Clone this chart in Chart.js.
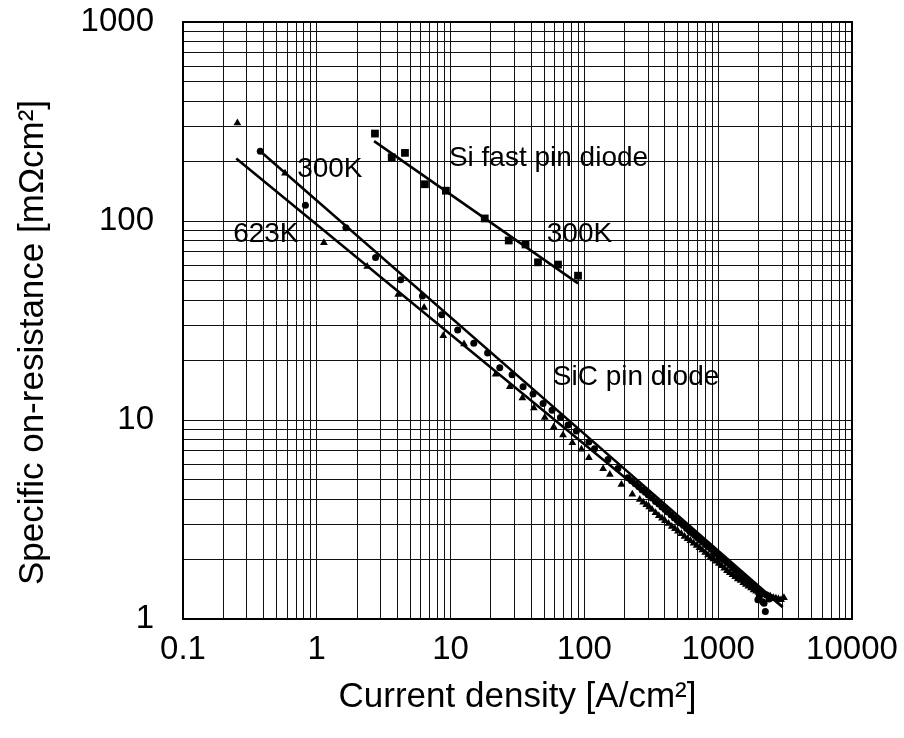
<!DOCTYPE html>
<html>
<head>
<meta charset="utf-8">
<script src="https://cdn.jsdelivr.net/npm/chart.js@4/dist/chart.umd.min.js"></script>
<style>
  body { margin: 0; background: #fff; }
  canvas { display: block; }
</style>
</head>
<body>
<canvas id="chart" width="904" height="738"></canvas>
<script>
// axis decades
const xDecades = [0.1, 1, 10, 100, 1000, 10000];
const yDecades = [1, 10, 100, 1000];

// Si fast pin diode, 300K
const siJ = [2.72, 3.63, 4.56, 6.43, 9.22, 18.0, 27.2, 36.3, 45.0, 63.5, 89.6];
const siR = [275, 209, 220, 153, 142, 103, 79.8, 76.2, 62.0, 60.4, 53.1];
const siFitJ = [2.68, 89.6];
const siFitR = [252, 48.6];

// SiC pin diode, 300K (circles)
const sic300J = [0.378, 0.822, 1.65, 2.75, 4.24, 6.16, 8.57, 11.3, 14.9, 18.9, 23.3, 28.8, 34.8, 41.3,
  49.1, 57.3, 66.2, 75.5, 87.1, 108, 119, 150, 178,
  211, 225, 240, 255, 270, 285, 300, 320, 340, 360, 380, 400, 420, 445, 470, 495, 520, 550, 580, 610,
  640, 670, 700, 735, 770, 810, 850, 890, 930, 975, 1020, 1070, 1120, 1175, 1230, 1290, 1350, 1410,
  1480, 1550, 1620, 1700, 1780, 1860, 1950, 1980, 2030, 2100, 2150, 2200, 2250, 2300, 2400, 2500];
const sic300R = [224, 120, 92.4, 65.5, 50.6, 42.0, 33.8, 28.3, 24.3, 21.7, 18.3, 16.9, 14.7, 13.5,
  12.1, 11.2, 10.3, 9.44, 8.80, 7.75, 7.17, 6.34, 5.71,
  5.12, 4.95, 4.78, 4.62, 4.45, 4.33, 4.2, 4.05, 3.9, 3.78, 3.65, 3.55, 3.45, 3.33, 3.22, 3.13, 3.04, 2.95, 2.85, 2.77,
  2.7, 2.63, 2.56, 2.49, 2.43, 2.36, 2.3, 2.24, 2.18, 2.12, 2.06, 2.01, 1.97, 1.91, 1.86, 1.81, 1.76, 1.71,
  1.66, 1.62, 1.58, 1.54, 1.5, 1.46, 1.42, 1.25, 1.3, 1.36, 1.22, 1.2, 1.09, 1.32, 1.26, 1.28];
const fit300J = [0.378, 3030];
const fit300R = [224, 1.15];

// SiC pin diode, 623K (triangles)
const sic623J = [0.255, 0.579, 1.13, 2.38, 4.06, 6.34, 8.81, 12.6, 21.7, 27.7, 34.4, 41.9, 50.6, 59.0,
  69.2, 81.3, 95.0, 108, 138, 155, 189, 228,
  259, 275, 290, 305, 320, 340, 360, 380, 400, 425, 450, 475, 500, 530, 560, 590, 620, 655, 690, 725,
  760, 800, 840, 880, 920, 965, 1010, 1060, 1110, 1165, 1220, 1280, 1340, 1400, 1470, 1540, 1610, 1680,
  1760, 1840, 1920, 2000, 2080, 2160, 2250, 2350, 2450, 2580, 2700, 2820, 2950, 3100];
const sic623R = [311, 174, 77.7, 59.1, 42.7, 36.8, 26.5, 24.1, 17.0, 14.7, 12.9, 11.5, 10.3, 9.22,
  8.40, 7.69, 7.12, 6.46, 5.69, 5.33, 4.74, 4.23,
  3.98, 3.86, 3.75, 3.65, 3.55, 3.42, 3.3, 3.21, 3.12, 3.02, 2.92, 2.84, 2.76, 2.68, 2.6, 2.53, 2.47, 2.4, 2.34, 2.28,
  2.22, 2.16, 2.1, 2.05, 2.0, 1.95, 1.9, 1.85, 1.8, 1.75, 1.71, 1.67, 1.63, 1.59, 1.56, 1.52, 1.49, 1.46,
  1.43, 1.4, 1.38, 1.36, 1.34, 1.33, 1.32, 1.31, 1.3, 1.28, 1.27, 1.26, 1.25, 1.28];
const fit623J = [0.25, 3030];
const fit623R = [206, 1.15];

// text written inside the plot
const notes = [
  { text: '300K', x: 0.713, y: 182 },
  { text: '623K', x: 0.237, y: 85.5 },
  { text: 'Si fast pin diode', x: 9.71, y: 206 },
  { text: '300K', x: 52.3, y: 85.5 },
  { text: 'SiC pin diode', x: 58, y: 16.3 }
];
const yTitle = 'Specific on-resistance [mΩcm²]';

const FONT = '"Liberation Sans", Arial, Helvetica, sans-serif';

function pairs(xs, ys) {
  return xs.map((v, i) => ({ x: v, y: ys[i] }));
}

// 1..9 in every decade, so each gets a grid line
function logTicks(decades) {
  const out = [];
  for (let i = 0; i < decades.length - 1; i++) {
    for (let k = 1; k <= 9; k++) out.push({ value: k * decades[i] });
  }
  out.push({ value: decades[decades.length - 1] });
  return out;
}

const extras = {
  id: 'extras',
  afterDatasetsDraw(chart) {
    const { ctx, chartArea: a, scales: { x, y } } = chart;
    ctx.save();
    ctx.strokeStyle = '#000';
    ctx.lineWidth = 2;
    ctx.strokeRect(a.left, a.top, a.right - a.left, a.bottom - a.top);
    ctx.fillStyle = '#000';
    ctx.font = '28px ' + FONT;
    ctx.textBaseline = 'middle';
    ctx.textAlign = 'left';
    notes.forEach(n => {
      ctx.fillText(n.text, x.getPixelForValue(n.x), y.getPixelForValue(n.y));
    });
    // y axis title, sits a bit below the middle of the plot in the original
    ctx.translate(33, (a.top + a.bottom) / 2 + 22);
    ctx.rotate(-Math.PI / 2);
    ctx.textAlign = 'center';
    ctx.font = '35px ' + FONT;
    ctx.fillText(yTitle, 0, 0);
    ctx.restore();
  }
};

const pointSet = (data, style, r) => ({
  type: 'scatter',
  data: data,
  pointStyle: style,
  pointRadius: r,
  pointBackgroundColor: '#000',
  pointBorderColor: '#000',
  pointBorderWidth: 0,
  showLine: false
});

const lineSet = (data) => ({
  type: 'line',
  data: data,
  borderColor: '#000',
  borderWidth: 2.5,
  pointRadius: 0,
  fill: false,
  tension: 0
});

new Chart(document.getElementById('chart'), {
  type: 'scatter',
  data: {
    datasets: [
      lineSet(pairs(siFitJ, siFitR)),
      lineSet(pairs(fit300J, fit300R)),
      lineSet(pairs(fit623J, fit623R)),
      pointSet(pairs(siJ, siR), 'rect', 5.5),
      pointSet(pairs(sic300J, sic300R), 'circle', 3.5),
      pointSet(pairs(sic623J, sic623R), 'triangle', 4.5)
    ]
  },
  options: {
    responsive: false,
    animation: false,
    layout: { padding: { left: 0, top: 22, right: 52, bottom: 0 } },
    plugins: { legend: { display: false }, tooltip: { enabled: false } },
    scales: {
      x: {
        type: 'logarithmic',
        min: 0.1,
        max: 10000,
        afterBuildTicks: s => { s.ticks = logTicks(xDecades); },
        afterFit: s => { s.height = 119; s.paddingLeft = 0; s.paddingRight = 0; },
        grid: { color: '#111', lineWidth: 1, drawTicks: false },
        border: { display: false },
        ticks: {
          autoSkip: false,
          maxRotation: 0,
          padding: 11,
          color: '#000',
          font: { family: FONT, size: 33 },
          callback: v => xDecades.includes(v) ? String(v) : ''
        },
        title: {
          display: true,
          text: 'Current density [A/cm²]',
          color: '#000',
          font: { family: FONT, size: 35 },
          padding: { top: 0, bottom: 20 }
        }
      },
      y: {
        type: 'logarithmic',
        min: 1,
        max: 1000,
        afterBuildTicks: s => { s.ticks = logTicks(yDecades); },
        afterFit: s => { s.width = 183; s.paddingTop = 0; s.paddingBottom = 0; },
        grid: { color: '#111', lineWidth: 1, drawTicks: false },
        border: { display: false },
        ticks: {
          autoSkip: false,
          padding: 29,
          color: '#000',
          font: { family: FONT, size: 33 },
          callback: v => yDecades.includes(v) ? String(v) : ''
        },
        title: { display: false }
      }
    }
  },
  plugins: [extras]
});
</script>
</body>
</html>
